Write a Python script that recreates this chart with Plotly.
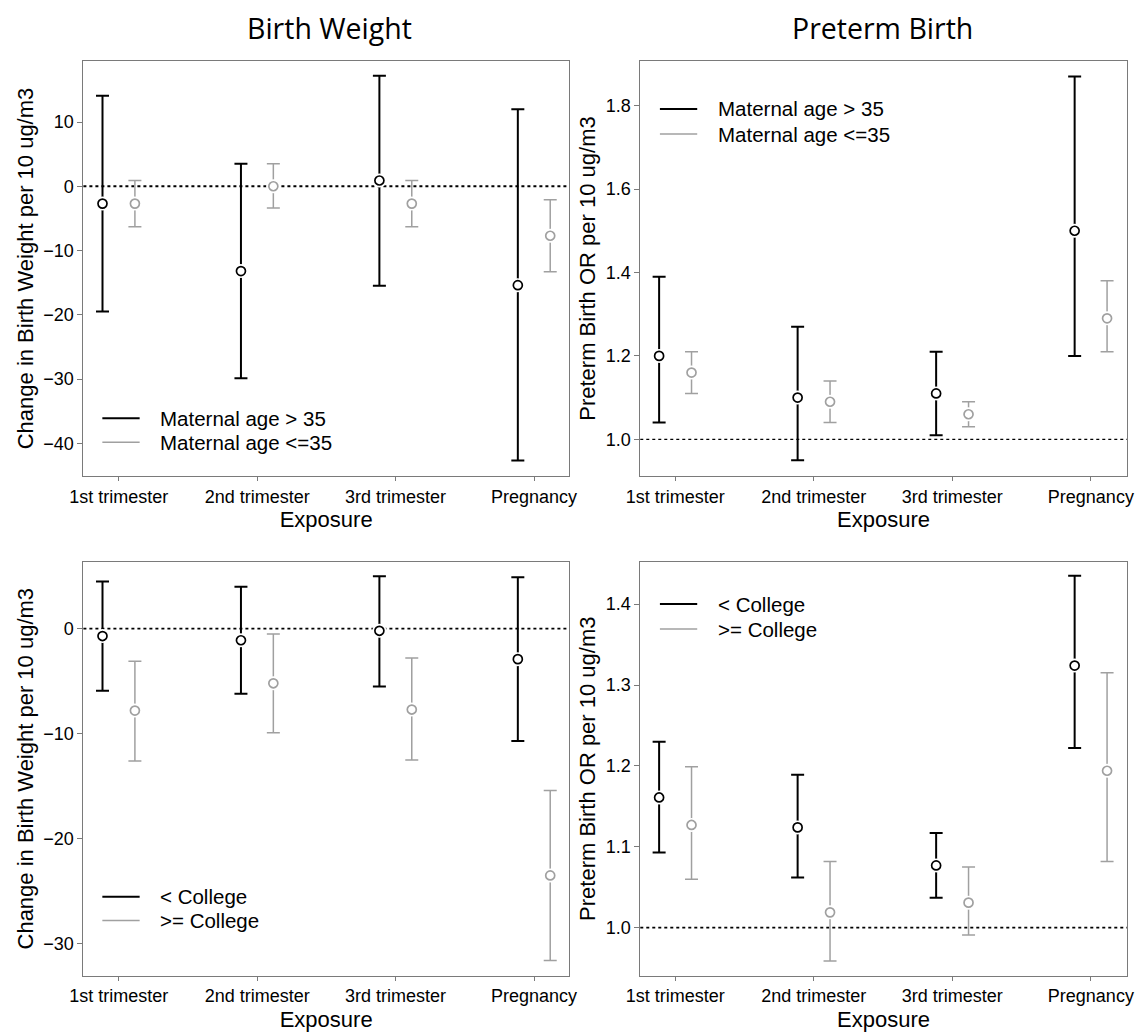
import plotly.graph_objects as go

# Exposure windows (x categories)
exposures = ["1st trimester", "2nd trimester", "3rd trimester", "Pregnancy"]

# Birth weight change per 10 ug/m3, by maternal age
bw_age_old_est = [-2.7, -13.2, 0.9, -15.4]
bw_age_old_lo = [-19.5, -29.9, -15.5, -42.7]
bw_age_old_hi = [14.1, 3.5, 17.2, 12.0]
bw_age_young_est = [-2.7, 0.0, -2.7, -7.7]
bw_age_young_lo = [-6.3, -3.4, -6.3, -13.3]
bw_age_young_hi = [0.9, 3.5, 0.9, -2.1]

# Preterm birth OR per 10 ug/m3, by maternal age
pb_age_old_est = [1.20, 1.10, 1.11, 1.50]
pb_age_old_lo = [1.04, 0.95, 1.01, 1.20]
pb_age_old_hi = [1.39, 1.27, 1.21, 1.87]
pb_age_young_est = [1.16, 1.09, 1.06, 1.29]
pb_age_young_lo = [1.11, 1.04, 1.03, 1.21]
pb_age_young_hi = [1.21, 1.14, 1.09, 1.38]

# Birth weight change per 10 ug/m3, by education
bw_edu_low_est = [-0.7, -1.1, -0.2, -2.9]
bw_edu_low_lo = [-5.9, -6.2, -5.5, -10.7]
bw_edu_low_hi = [4.5, 4.0, 5.0, 4.9]
bw_edu_high_est = [-7.8, -5.2, -7.7, -23.5]
bw_edu_high_lo = [-12.6, -9.9, -12.5, -31.6]
bw_edu_high_hi = [-3.1, -0.5, -2.8, -15.4]

# Preterm birth OR per 10 ug/m3, by education
pb_edu_low_est = [1.161, 1.124, 1.077, 1.324]
pb_edu_low_lo = [1.093, 1.062, 1.037, 1.222]
pb_edu_low_hi = [1.230, 1.189, 1.117, 1.435]
pb_edu_high_est = [1.127, 1.019, 1.031, 1.194]
pb_edu_high_lo = [1.060, 0.959, 0.991, 1.082]
pb_edu_high_hi = [1.199, 1.082, 1.075, 1.315]

# Legend labels per row of panels
age_labels = ["Maternal age > 35", "Maternal age <=35"]
edu_labels = ["< College", ">= College"]

BLACK = "#000000"
GRAY = "#a0a0a0"
DODGE = 0.117
FONT = "Liberation Sans, Arial, sans-serif"

fig = go.Figure()


def add_series(est, lo, hi, side, color, width, xa, ya):
    xs = [i + side * DODGE for i in range(len(est))]
    plus = [h - e for h, e in zip(hi, est)]
    minus = [e - l for e, l in zip(est, lo)]
    # error bar with a white halo marker that opens a gap around the point
    fig.add_trace(go.Scatter(
        x=xs, y=est, mode="markers", xaxis=xa, yaxis=ya, showlegend=False,
        hoverinfo="skip",
        marker=dict(symbol="circle", size=14, color="white", line=dict(width=0)),
        error_y=dict(type="data", symmetric=False, array=plus, arrayminus=minus,
                     color=color, thickness=width, width=6.5),
    ))
    fig.add_trace(go.Scatter(
        x=xs, y=est, mode="markers", xaxis=xa, yaxis=ya, showlegend=False,
        marker=dict(symbol="circle", size=9, color="white",
                    line=dict(color=color, width=1.7)),
    ))


add_series(bw_age_old_est, bw_age_old_lo, bw_age_old_hi, -1, BLACK, 2.0, "x", "y")
add_series(bw_age_young_est, bw_age_young_lo, bw_age_young_hi, 1, GRAY, 1.5, "x", "y")
add_series(pb_age_old_est, pb_age_old_lo, pb_age_old_hi, -1, BLACK, 2.0, "x2", "y2")
add_series(pb_age_young_est, pb_age_young_lo, pb_age_young_hi, 1, GRAY, 1.5, "x2", "y2")
add_series(bw_edu_low_est, bw_edu_low_lo, bw_edu_low_hi, -1, BLACK, 2.0, "x3", "y3")
add_series(bw_edu_high_est, bw_edu_high_lo, bw_edu_high_hi, 1, GRAY, 1.5, "x3", "y3")
add_series(pb_edu_low_est, pb_edu_low_lo, pb_edu_low_hi, -1, BLACK, 2.0, "x4", "y4")
add_series(pb_edu_high_est, pb_edu_high_lo, pb_edu_high_hi, 1, GRAY, 1.5, "x4", "y4")

W, H = 1143, 1032
left_dom = [70.7 / W, 565.3 / W]
right_dom = [638 / W, 1133.7 / W]
top_dom = [1 - 476 / H, 1 - 61 / H]
bot_dom = [1 - 975.7 / H, 1 - 561.7 / H]

common_x = dict(
    tickmode="array", tickvals=list(range(len(exposures))), ticktext=exposures,
    showline=True, linecolor="#7a7a7a", linewidth=1, mirror=True,
    ticks="outside", ticklen=4, tickcolor="#7a7a7a", showgrid=False, zeroline=False,
    tickfont=dict(family=FONT, size=18, color="black"),
    title=dict(text="Exposure", font=dict(family=FONT, size=22, color="black"), standoff=6),
)
common_y = dict(
    showline=True, linecolor="#7a7a7a", linewidth=1, mirror=True,
    ticks="outside", ticklen=5, tickcolor="#7a7a7a", showgrid=False, zeroline=False,
    tickfont=dict(family=FONT, size=18, color="black"),
)
bw_title = dict(text="Change in Birth Weight per 10 ug/m3",
                font=dict(family=FONT, size=22, color="black"), standoff=3)
pb_title = dict(text="Preterm Birth OR per 10 ug/m3",
                font=dict(family=FONT, size=22, color="black"), standoff=3)

fig.update_layout(
    width=W, height=H, margin=dict(l=0, r=0, t=0, b=0),
    paper_bgcolor="white", plot_bgcolor="white", showlegend=False,
    xaxis=dict(domain=left_dom, range=[-0.255, 3.252], anchor="y", **common_x),
    yaxis=dict(domain=top_dom, range=[-45.1, 19.5], tickvals=[-40, -30, -20, -10, 0, 10],
               anchor="x", title=bw_title, **common_y),
    xaxis2=dict(domain=right_dom, range=[-0.253, 3.26], anchor="y2", **common_x),
    yaxis2=dict(domain=top_dom, range=[0.912, 1.907], tickvals=[1.0, 1.2, 1.4, 1.6, 1.8],
                tickformat=".1f", anchor="x2", title=pb_title, **common_y),
    xaxis3=dict(domain=left_dom, range=[-0.255, 3.252], anchor="y3", **common_x),
    yaxis3=dict(domain=bot_dom, range=[-33.05, 6.38], tickvals=[-30, -20, -10, 0],
                anchor="x3", title=bw_title, **common_y),
    xaxis4=dict(domain=right_dom, range=[-0.253, 3.26], anchor="y4", **common_x),
    yaxis4=dict(domain=bot_dom, range=[0.9407, 1.4524], tickvals=[1.0, 1.1, 1.2, 1.3, 1.4],
                tickformat=".1f", anchor="x4", title=pb_title, **common_y),
)

# reference lines at no effect
for xa, ya, yv, w in [("x", "y", 0, 1.8), ("x2", "y2", 1.0, 1.3),
                      ("x3", "y3", 0, 1.8), ("x4", "y4", 1.0, 1.8)]:
    fig.add_shape(type="line", xref=f"{xa} domain", yref=ya, x0=0, x1=1, y0=yv, y1=yv,
                  line=dict(color="black", width=w, dash="dot"), layer="below")

# in-panel keys: line sample + label, placed in pixel terms within each panel
keys = [
    (age_labels, 90, [418.3, 442.3]),
    (age_labels, 658, [109, 134]),
    (edu_labels, 90, [896.7, 920.5]),
    (edu_labels, 658, [604, 629]),
]
for labels, x0, rows in keys:
    for label, yrow, color, width in zip(labels, rows, [BLACK, GRAY], [2.0, 1.5]):
        yp = 1 - yrow / H
        fig.add_shape(type="line", xref="paper", yref="paper",
                      x0=x0 / W, x1=(x0 + 38) / W, y0=yp, y1=yp,
                      line=dict(color=color, width=width))
        fig.add_annotation(text=label, x=(x0 + 57) / W, y=yp, xref="paper", yref="paper",
                           xanchor="left", yanchor="middle", showarrow=False,
                           font=dict(family=FONT, size=20.5, color="black"))

# column headings
for text, xc in [("Birth Weight", 321.5), ("Preterm Birth", 884.5)]:
    fig.add_annotation(text=text, x=xc / W, y=1 - 27.5 / H, xref="paper", yref="paper",
                       xanchor="center", yanchor="middle", showarrow=False,
                       font=dict(family="Open Sans, Noto Sans, sans-serif", size=28.5,
                                 color="black"))

fig.write_html("out.html")
